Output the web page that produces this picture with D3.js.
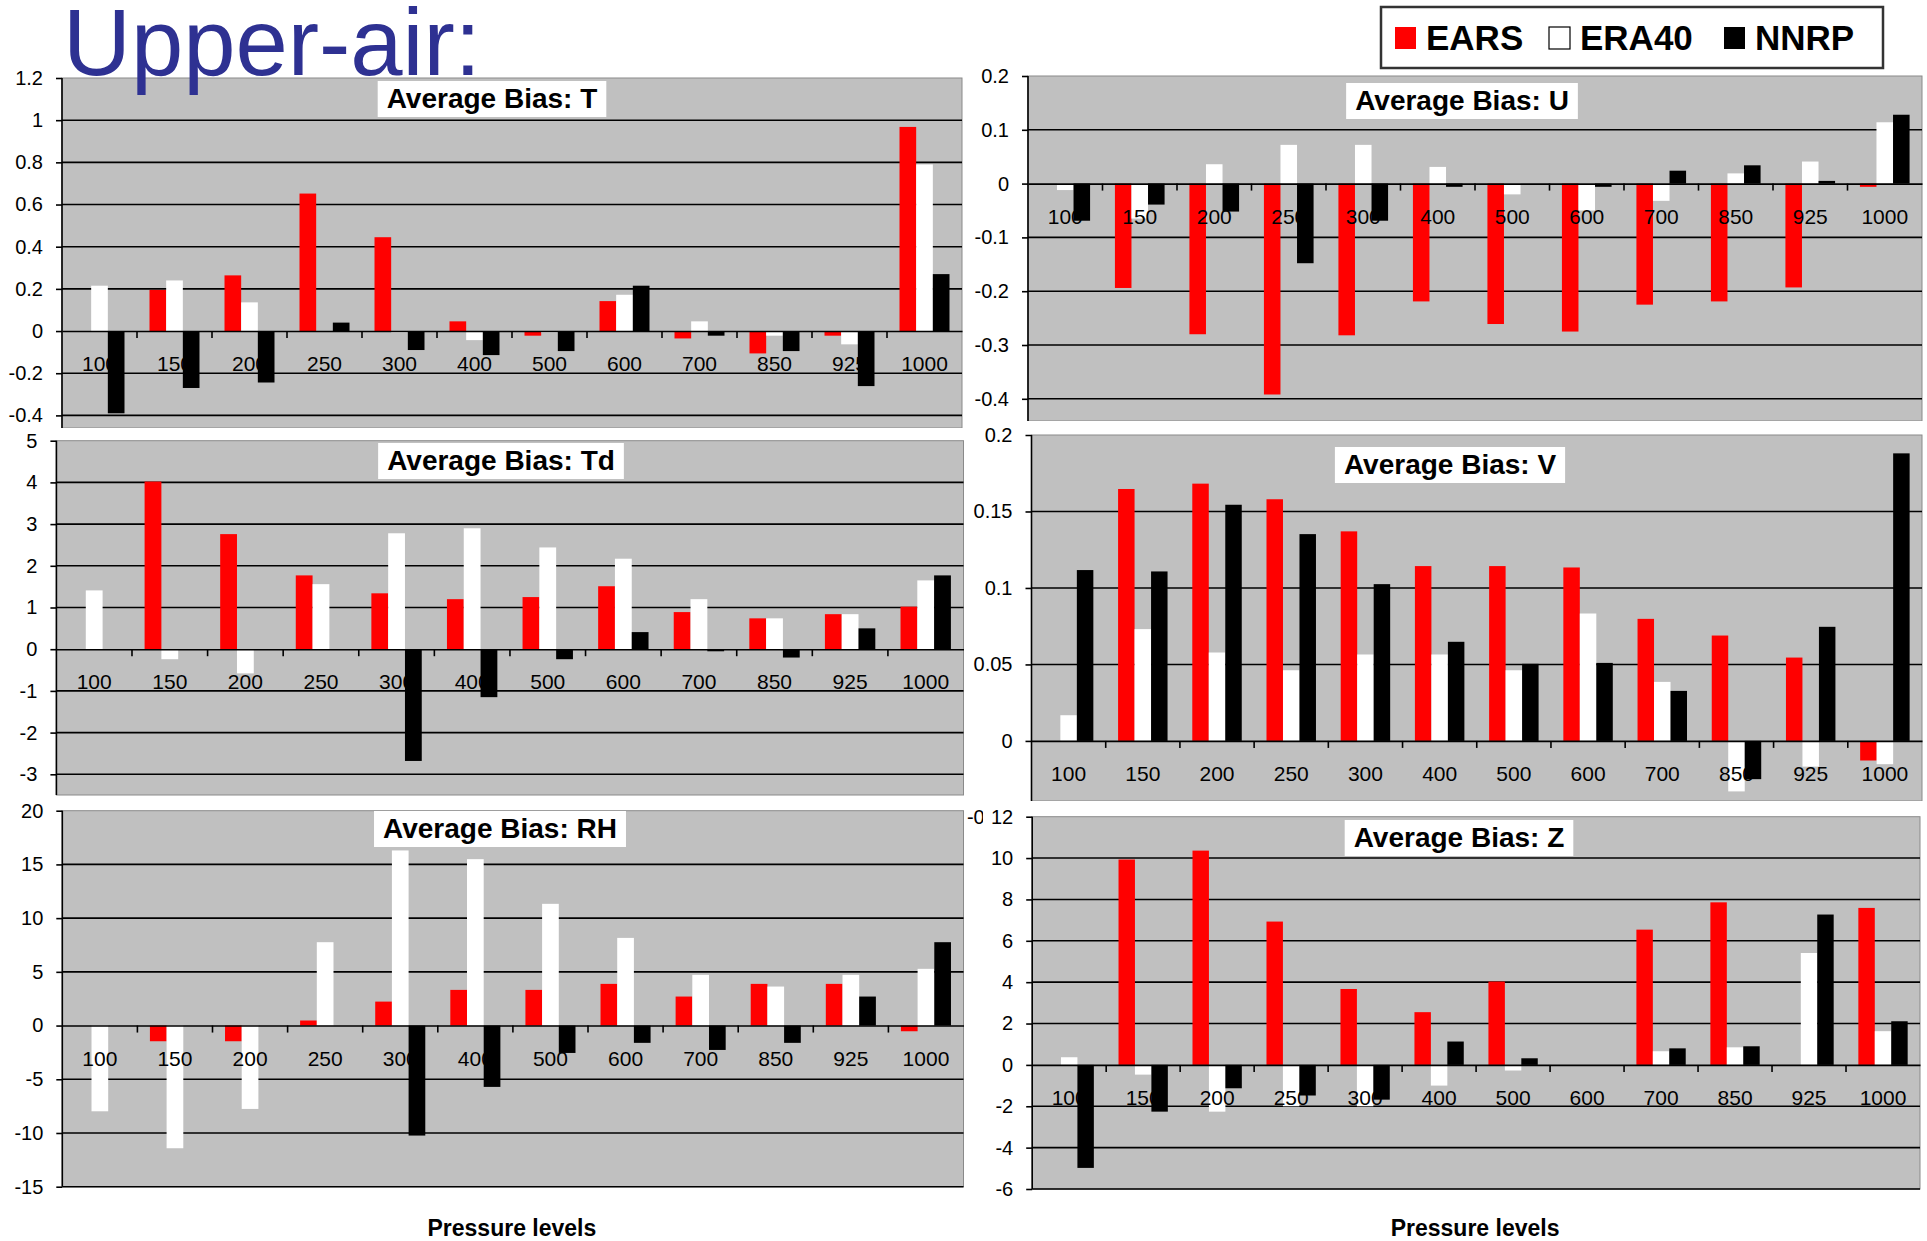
<!DOCTYPE html>
<html>
<head>
<meta charset="utf-8">
<script src="https://cdn.jsdelivr.net/npm/d3@7"></script>
<style>
  html, body { margin: 0; padding: 0; background: #fff; }
  svg { display: block; font-family: "Liberation Sans", Arial, sans-serif; }
</style>
</head>
<body>
<svg id="chart" width="1927" height="1241"></svg>
<script>
// ---- data ----
const levels = ["100", "150", "200", "250", "300", "400", "500", "600", "700", "850", "925", "1000"];
const seriesNames = ["EARS", "ERA40", "NNRP"];
const seriesColors = ["#ff0000", "#ffffff", "#000000"];

// Temperature bias
const tEARS  = [0, 0.195, 0.264, 0.652, 0.445, 0.046, -0.022, 0.142, -0.035, -0.106, -0.022, 0.968];
const tERA40 = [0.215, 0.24, 0.136, 0, -0.008, -0.043, -0.008, 0.172, 0.046, -0.022, -0.063, 0.79];
const tNNRP  = [-0.39, -0.27, -0.244, 0.04, -0.09, -0.114, -0.095, 0.215, -0.022, -0.095, -0.261, 0.27];
const tTicks = [-0.4, -0.2, 0, 0.2, 0.4, 0.6, 0.8, 1, 1.2];

// Zonal wind bias
const uEARS  = [0, -0.194, -0.28, -0.392, -0.282, -0.219, -0.261, -0.275, -0.225, -0.219, -0.193, -0.006];
const uERA40 = [-0.012, -0.065, 0.036, 0.072, 0.072, 0.031, -0.02, -0.05, -0.032, 0.019, 0.041, 0.114];
const uNNRP  = [-0.069, -0.039, -0.052, -0.148, -0.069, -0.006, 0, -0.006, 0.024, 0.034, 0.005, 0.128];
const uTicks = [-0.4, -0.3, -0.2, -0.1, 0, 0.1, 0.2];

// Dew point bias
const tdEARS  = [0, 4.02, 2.76, 1.77, 1.34, 1.2, 1.25, 1.51, 0.89, 0.74, 0.84, 1.02];
const tdERA40 = [1.41, -0.24, -0.58, 1.56, 2.78, 2.9, 2.44, 2.17, 1.2, 0.74, 0.84, 1.65];
const tdNNRP  = [0, 0, 0, 0, -2.68, -1.15, -0.24, 0.41, -0.05, -0.2, 0.5, 1.77];
const tdTicks = [-3, -2, -1, 0, 1, 2, 3, 4, 5];

// Meridional wind bias
const vEARS  = [0, 0.1647, 0.1682, 0.158, 0.137, 0.1143, 0.1143, 0.1134, 0.0798, 0.0689, 0.0545, -0.0128];
const vERA40 = [0.0168, 0.0731, 0.0578, 0.0462, 0.0565, 0.0565, 0.0462, 0.0833, 0.0386, -0.033, -0.0168, -0.0152];
const vNNRP  = [0.1117, 0.1108, 0.1544, 0.1352, 0.1025, 0.0648, 0.0504, 0.051, 0.0327, -0.025, 0.0746, 0.188];
const vTicks = [-0.05, 0, 0.05, 0.1, 0.15, 0.2];

// Relative humidity bias
const rhEARS  = [0, -1.46, -1.46, 0.47, 2.23, 3.32, 3.32, 3.88, 2.7, 3.88, 3.88, -0.53];
const rhERA40 = [-7.98, -11.42, -7.76, 7.76, 16.3, 15.49, 11.33, 8.16, 4.72, 3.63, 4.72, 5.28];
const rhNNRP  = [0, 0, 0, 0, -10.24, -5.71, -2.55, -1.61, -2.27, -1.61, 2.7, 7.76];
const rhTicks = [-15, -10, -5, 0, 5, 10, 15, 20];

// Geopotential height bias
const zEARS  = [0, 9.93, 10.36, 6.93, 3.67, 2.55, 4.03, 0, 6.54, 7.86, 0, 7.59];
const zERA40 = [0.37, -0.47, -2.26, -2.0, -2.0, -1.0, -0.27, 0, 0.66, 0.85, 5.41, 1.63];
const zNNRP  = [-4.98, -2.26, -1.13, -1.48, -1.68, 1.13, 0.32, 0, 0.8, 0.9, 7.27, 2.11];
const zTicks = [-6, -4, -2, 0, 2, 4, 6, 8, 10, 12];

// ---- panel layout ----
// bg: white chart area; x: plot span; yPx: pixel rows of [lowest tick, highest tick];
// plotBottom: lower edge of the visible plot box
const panels = [
  { title: "Average Bias: T",  data: [tEARS, tERA40, tNNRP],    ticks: tTicks,
    bg: [0, 0, 966, 428],       x: [62, 962],     yPx: [415.4, 78],   plotBottom: 428,
    titleX: 492,  titleY: 81 },
  { title: "Average Bias: U",  data: [uEARS, uERA40, uNNRP],    ticks: uTicks,
    bg: [966, 0, 961, 421],     x: [1028, 1922],  yPx: [398.8, 76],   plotBottom: 421,
    titleX: 1462, titleY: 83 },
  { title: "Average Bias: Td", data: [tdEARS, tdERA40, tdNNRP], ticks: tdTicks,
    bg: [0, 428, 966, 368],     x: [56.4, 963.5], yPx: [774.3, 440.7], plotBottom: 795,
    titleX: 501,  titleY: 443 },
  { title: "Average Bias: V",  data: [vEARS, vERA40, vNNRP],    ticks: vTicks,
    bg: [966, 421, 961, 380],   x: [1031.5, 1922], yPx: [817.4, 435],  plotBottom: 801,
    titleX: 1450, titleY: 447, labelClip: true },
  { title: "Average Bias: RH", data: [rhEARS, rhERA40, rhNNRP], ticks: rhTicks,
    bg: [0, 796, 966, 445],     x: [62.3, 963.5], yPx: [1186.7, 810.7], plotBottom: 1186.7,
    titleX: 500,  titleY: 811, xTitle: true },
  { title: "Average Bias: Z",  data: [zEARS, zERA40, zNNRP],    ticks: zTicks,
    bg: [983, 801, 944, 440],   x: [1032.2, 1920], yPx: [1189, 816.7],  plotBottom: 1189,
    titleX: 1459, titleY: 820, xTitle: true }
];

const svg = d3.select("#chart");
const defs = svg.append("defs");
const fmt = v => String(Math.round(v * 1000) / 1000);
const FONT = '"Liberation Sans", Arial, sans-serif';

panels.forEach((p, pi) => {
  const g = svg.append("g");
  const ticks = p.ticks;
  const y = d3.scaleLinear()
    .domain([d3.min(ticks), d3.max(ticks)])
    .range(p.yPx);
  const x0 = d3.scaleBand().domain(levels).range(p.x).paddingInner(0).paddingOuter(0);
  const x1 = d3.scaleBand().domain(seriesNames).range([0, x0.bandwidth()])
    .paddingInner(0).paddingOuter(0.75);

  // chart area
  g.append("rect")
    .attr("x", p.bg[0]).attr("y", p.bg[1])
    .attr("width", p.bg[2]).attr("height", p.bg[3])
    .attr("fill", "#fff");

  const top = p.yPx[1], bottom = p.plotBottom;

  // plot area
  g.append("rect")
    .attr("x", p.x[0]).attr("y", top)
    .attr("width", p.x[1] - p.x[0]).attr("height", bottom - top)
    .attr("fill", "#c0c0c0")
    .attr("stroke", "#8a8a8a").attr("stroke-width", 1);

  // horizontal gridlines
  g.selectAll("line.grid")
    .data(ticks.filter(t => t !== d3.max(ticks) && t !== 0 && y(t) <= bottom))
    .join("line")
    .attr("x1", p.x[0]).attr("x2", p.x[1])
    .attr("y1", d => y(d)).attr("y2", d => y(d))
    .attr("stroke", "#000").attr("stroke-width", 1.6);

  // value axis (wrapped so an optional clip works in page coordinates)
  const yWrap = g.append("g");
  if (p.labelClip) {
    const cid = "clip" + pi;
    const cp = defs.append("clipPath").attr("id", cid);
    cp.append("rect").attr("x", p.bg[0]).attr("y", p.bg[1]).attr("width", p.bg[2]).attr("height", p.bg[3]);
    cp.append("rect").attr("x", 940).attr("y", p.bg[1]).attr("width", 43).attr("height", 440);
    yWrap.attr("clip-path", `url(#${cid})`);
  }
  const yAxis = d3.axisLeft(y).tickValues(ticks).tickSize(6).tickFormat(fmt).tickSizeOuter(0);
  const ya = yWrap.append("g").attr("transform", `translate(${p.x[0]},0)`).call(yAxis);
  ya.select(".domain").remove();
  ya.selectAll(".tick line").attr("stroke", "#000").attr("stroke-width", 1.6);
  ya.selectAll(".tick text")
    .attr("x", -19)
    .attr("font-size", 20)
    .attr("font-family", FONT)
    .attr("fill", "#000");
  g.append("line")
    .attr("x1", p.x[0]).attr("x2", p.x[0])
    .attr("y1", top).attr("y2", bottom)
    .attr("stroke", "#000").attr("stroke-width", 1.6);

  // bars
  const groups = g.selectAll("g.cat")
    .data(levels)
    .join("g")
    .attr("transform", d => `translate(${x0(d)},0)`);
  groups.selectAll("rect")
    .data((lev, i) => seriesNames.map((s, k) => ({ s, k, v: p.data[k][i] })))
    .join("rect")
    .attr("x", d => x1(d.s))
    .attr("width", x1.bandwidth())
    .attr("y", d => Math.min(y(d.v), y(0)))
    .attr("height", d => Math.abs(y(d.v) - y(0)))
    .attr("fill", d => seriesColors[d.k]);

  // category axis along zero
  const xAxis = d3.axisBottom(x0).tickSize(0).tickSizeOuter(0);
  const xa = g.append("g").attr("transform", `translate(0,${y(0)})`).call(xAxis);
  xa.select(".domain").attr("stroke", "#000").attr("stroke-width", 1.6);
  xa.selectAll(".tick text")
    .attr("y", 40).attr("dy", 0)
    .attr("font-size", 21)
    .attr("font-family", FONT)
    .attr("fill", "#000");
  // boundary ticks between categories
  g.selectAll("line.cb")
    .data(levels.slice(1))
    .join("line")
    .attr("x1", d => x0(d)).attr("x2", d => x0(d))
    .attr("y1", y(0)).attr("y2", y(0) + 7)
    .attr("stroke", "#000").attr("stroke-width", 1.6);

  // title box
  const tg = g.append("g");
  const tt = tg.append("text")
    .attr("x", p.titleX).attr("y", p.titleY + 27)
    .attr("text-anchor", "middle")
    .attr("font-size", 28).attr("font-weight", "bold")
    .attr("fill", "#000")
    .text(p.title);
  const tw = tt.node().getComputedTextLength();
  tg.insert("rect", "text")
    .attr("x", p.titleX - tw / 2 - 9).attr("y", p.titleY)
    .attr("width", tw + 18).attr("height", 36)
    .attr("fill", "#fff");

  if (p.xTitle) {
    g.append("text")
      .attr("x", (p.x[0] + p.x[1]) / 2 - 1).attr("y", 1236)
      .attr("text-anchor", "middle")
      .attr("font-size", 23).attr("font-weight", "bold")
      .attr("fill", "#000")
      .text("Pressure levels");
  }
});

// ---- legend ----
const lg = svg.append("g");
lg.append("rect")
  .attr("x", 1381).attr("y", 7).attr("width", 502).attr("height", 61)
  .attr("fill", "#fff").attr("stroke", "#333").attr("stroke-width", 2.5);
const legendX = [1395, 1549, 1724];
seriesNames.forEach((s, k) => {
  lg.append("rect")
    .attr("x", legendX[k]).attr("y", 27).attr("width", 21).attr("height", 22)
    .attr("fill", seriesColors[k])
    .attr("stroke", k === 1 ? "#000" : "none").attr("stroke-width", 1.2);
  lg.append("text")
    .attr("x", legendX[k] + 31).attr("y", 50)
    .attr("font-size", 35).attr("font-weight", "bold")
    .attr("fill", "#000")
    .text(s);
});

// ---- slide heading ----
svg.append("text")
  .attr("x", 63).attr("y", 75)
  .attr("font-size", 94)
  .attr("fill", "#2e3192")
  .text("Upper-air:");
</script>
</body>
</html>
